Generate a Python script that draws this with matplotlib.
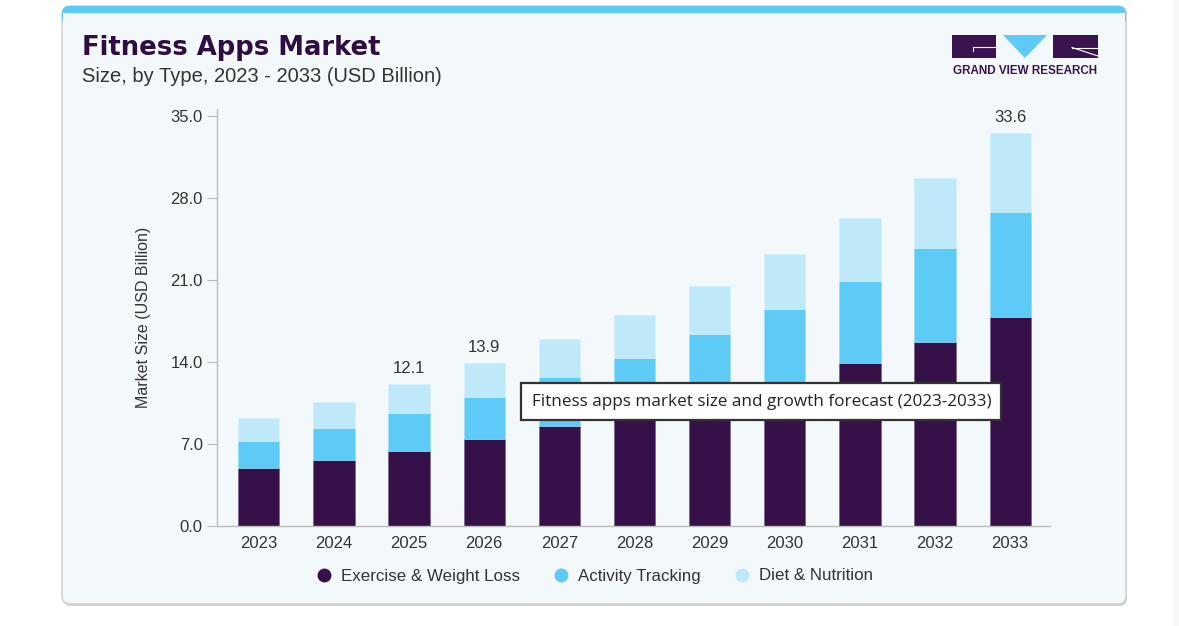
import numpy as np
import matplotlib.pyplot as plt
from matplotlib.patches import FancyBboxPatch, Rectangle, Polygon
from matplotlib.lines import Line2D

plt.rcParams["font.family"] = ["Liberation Sans", "DejaVu Sans"]

# values (USD billion)
years = ["2023", "2024", "2025", "2026", "2027", "2028", "2029", "2030", "2031", "2032", "2033"]
exercise = [4.92, 5.63, 6.43, 7.40, 8.54, 9.70, 10.90, 12.32, 13.90, 15.74, 17.83]
activity = [2.36, 2.74, 3.22, 3.64, 4.16, 4.68, 5.50, 6.22, 7.06, 7.99, 9.02]
diet = [1.92, 2.19, 2.45, 2.86, 3.25, 3.67, 4.13, 4.67, 5.33, 5.98, 6.75]
series_names = ["Exercise & Weight Loss", "Activity Tracking", "Diet & Nutrition"]
labelled = {"2025": "12.1", "2026": "13.9", "2033": "33.6"}
yticks = [0, 7, 14, 21, 28, 35]

DARK = "#361048"
BLUE = "#5ECBF6"
LIGHT = "#BDE9F9"
CARD = "#F3F8FB"
TXT = "#333333"

W, H = 1179, 626
fig = plt.figure(figsize=(W / 100, H / 100), dpi=100, facecolor="white")

# background layer in pixel coords
bg = fig.add_axes([0, 0, 1, 1], zorder=0)
bg.set_xlim(0, W)
bg.set_ylim(H, 0)
bg.axis("off")

bg.add_patch(Rectangle((1173, 0), 6, H, fc="#F5F9FC", ec="none"))
bg.add_patch(FancyBboxPatch((63, 8), 1064, 598, boxstyle="round,pad=0,rounding_size=8",
                            fc="#D0D0D0", ec="none"))
bg.add_patch(FancyBboxPatch((62, 6), 1064, 598, boxstyle="round,pad=0,rounding_size=8",
                            fc=CARD, ec="#CFCFCF", lw=1.0))
bg.add_patch(FancyBboxPatch((62, 6), 1064, 20, boxstyle="round,pad=0,rounding_size=8",
                            fc=BLUE, ec="none"))
bg.add_patch(Rectangle((63, 12.5), 1062, 16, fc=CARD, ec="none"))

bg.text(82, 48, "Fitness Apps Market", fontsize=18.6, fontweight="bold",
        color="#2E0D42", va="center", ha="left", family=["DejaVu Sans"])
bg.text(82, 76, "Size, by Type, 2023 - 2033 (USD Billion)", fontsize=14.5,
        color=TXT, va="center", ha="left")

# logo
bg.add_patch(Rectangle((952, 35), 44, 23, fc="#3A1450", ec="none"))
bg.add_patch(Polygon([(1003, 35), (1047, 35), (1025, 58)], closed=True, fc=BLUE, ec="none"))
bg.add_patch(Rectangle((1053, 35), 45, 23, fc="#3A1450", ec="none"))
bg.plot([973, 996], [47, 47], color="white", lw=0.8)
bg.plot([973, 973], [47, 51], color="white", lw=0.8)
bg.plot([1072, 1098], [47.5, 47.5], color="white", lw=0.8)
bg.plot([1072, 1098], [47.5, 56], color="white", lw=0.8)
bg.text(1025, 71, "GRAND VIEW RESEARCH", fontsize=8.4, fontweight="bold",
        color="#3A1450", ha="center", va="center")

# chart
y0 = 525.9
top = 109.4
ax = fig.add_axes([216.7 / W, 1 - y0 / H, (1050 - 216.7) / W, (y0 - top) / H], zorder=2)
ax.patch.set_alpha(0)
x = np.arange(len(years))
ex = np.array(exercise)
ac = np.array(activity)
di = np.array(diet)
ax.bar(x, ex, width=0.55, color=DARK, edgecolor="#6E5A80", lw=0.4)
ax.bar(x, ac, width=0.55, bottom=ex, color=BLUE, edgecolor="#9ADCF7", lw=0.4)
ax.bar(x, di, width=0.55, bottom=ex + ac, color=LIGHT, edgecolor="#D4F0FB", lw=0.4)

totals = ex + ac + di
for i, yr in enumerate(years):
    if yr in labelled:
        ax.text(i, totals[i] + 0.7, labelled[yr], ha="center", va="bottom",
                fontsize=12, color=TXT)

ax.set_xlim(-0.56, 10.53)
ax.set_ylim(0, 35.6)
ax.set_xticks(x)
ax.set_xticklabels(years)
ax.set_yticks(yticks)
ax.set_yticklabels([f"{v:.1f}" for v in yticks])
ax.tick_params(axis="x", length=0, pad=7, labelsize=12, labelcolor=TXT)
ax.tick_params(axis="y", length=7, width=0.8, color="#BBBBBB", pad=3,
               labelsize=12, labelcolor=TXT)
for s in ["top", "right"]:
    ax.spines[s].set_visible(False)
for s in ["left", "bottom"]:
    ax.spines[s].set_color("#BBBBBB")
    ax.spines[s].set_linewidth(1.0)
ax.set_ylabel("Market Size (USD Billion)", fontsize=11.5, color=TXT, labelpad=14)

handles = [Line2D([], [], marker="o", ls="none", markersize=9, color=c)
           for c in [DARK, BLUE, LIGHT]]
fig.legend(handles, series_names, loc="center", bbox_to_anchor=(590 / W, 1 - 576 / H),
           ncol=3, frameon=False, fontsize=12.2, handletextpad=0.0, columnspacing=1.45,
           labelcolor=TXT)

# tooltip overlay
fg = fig.add_axes([0, 0, 1, 1], zorder=3)
fg.set_xlim(0, W)
fg.set_ylim(H, 0)
fg.axis("off")
fg.add_patch(Rectangle((521, 383), 480, 37, fc="white", ec="#333333", lw=1.6))
fg.text(532, 402, "Fitness apps market size and growth forecast (2023-2033)",
        fontsize=12.3, color="#222222", ha="left", va="center", family=["Open Sans"])

fig.savefig("out.png", dpi=100, facecolor="white")
